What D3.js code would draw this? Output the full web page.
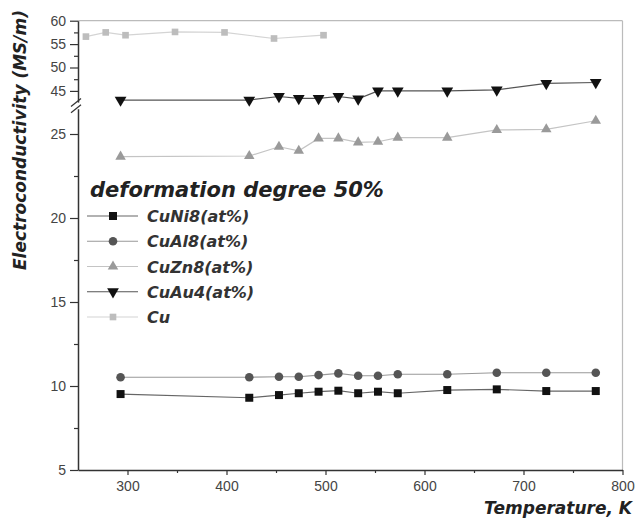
<!DOCTYPE html>
<html><head><meta charset="utf-8">
<script src="https://cdn.jsdelivr.net/npm/d3@7"></script>
<style>
html,body{margin:0;padding:0;background:#fff;}
svg{display:block;}
</style></head>
<body>
<svg id="chart" width="635" height="522"></svg>
<script>
// ---- data ----
const temps = [293, 423, 453, 473, 493, 513, 533, 553, 573, 623, 673, 723, 773];
const cuNi8 = [9.52, 9.30, 9.46, 9.57, 9.66, 9.72, 9.57, 9.66, 9.57, 9.76, 9.80, 9.70, 9.70];
const cuAl8 = [10.52, 10.52, 10.55, 10.55, 10.65, 10.75, 10.61, 10.61, 10.70, 10.70, 10.79, 10.79, 10.79];
const cuZn8 = [23.65, 23.69, 24.24, 24.0, 24.74, 24.74, 24.5, 24.54, 24.78, 24.78, 25.24, 25.28, 25.79];
const cuAu4 = [43.05, 43.05, 43.8, 43.4, 43.4, 43.8, 43.3, 45.0, 45.0, 45.0, 45.2, 46.6, 46.8];
const cuTemps = [258, 278, 298, 348, 398, 448, 498];
const cu = [56.6, 57.5, 56.9, 57.6, 57.5, 56.2, 56.9];

const seriesNames = ["CuNi8(at%)", "CuAl8(at%)", "CuZn8(at%)", "CuAu4(at%)", "Cu"];
const xTickValues = [300, 400, 500, 600, 700, 800];
const xMinorValues = [350, 450, 550, 650, 750];
const yLowTicks = [5, 10, 15, 20, 25];
const yLowMinor = [7.5, 12.5, 17.5, 22.5];
const yHighTicks = [45, 50, 55, 60];
const yHighMinor = [47.5, 52.5, 57.5];

const xTitle = "Temperature, K";
const yTitle = "Electroconductivity (MS/m)";
const legendTitle = "deformation degree 50%";

// ---- scales ----
const svg = d3.select("#chart");
const x = d3.scaleLinear().domain([250, 800]).range([78, 622.5]);
const yLow = d3.scaleLinear().domain([5, 26.5]).range([470, 108.8]);
const yHigh = d3.scaleLinear().domain([42.5, 60]).range([102.6, 20.7]);
const y = v => (v >= 35 ? yHigh(v) : yLow(v));

const boldFont = "'DejaVu Sans', sans-serif";
const tickFont = "'Liberation Sans', Arial, sans-serif";

// frame (top & right, light)
svg.append("line").attr("x1", x(250)).attr("x2", x(800)).attr("y1", yHigh(60)).attr("y2", yHigh(60))
  .attr("stroke", "#bbb").attr("stroke-width", 1.2);
svg.append("line").attr("x1", x(800)).attr("x2", x(800)).attr("y1", yHigh(60)).attr("y2", yLow(5))
  .attr("stroke", "#bbb").attr("stroke-width", 1.2);

// ---- axes ----
function styleAxis(g, fontSize) {
  g.selectAll(".domain").attr("stroke", "#333").attr("stroke-width", 1.5);
  g.selectAll(".tick line").attr("stroke", "#333").attr("stroke-width", 1.2);
  g.selectAll(".tick text").attr("fill", "#444").attr("font-family", tickFont).attr("font-size", fontSize);
}
// bottom
const gx = svg.append("g").attr("transform", `translate(0,${yLow(5)})`)
  .call(d3.axisBottom(x).tickValues(xTickValues).tickSize(5).tickPadding(6).tickSizeOuter(0));
styleAxis(gx, 14);
const gxm = svg.append("g").attr("transform", `translate(0,${yLow(5)})`)
  .call(d3.axisBottom(x).tickValues(xMinorValues).tickSize(3).tickFormat("").tickSizeOuter(0));
gxm.select(".domain").remove();
gxm.selectAll(".tick line").attr("stroke", "#333").attr("stroke-width", 1.2);

// left lower
const gyl = svg.append("g").attr("transform", `translate(${x(250)},0)`)
  .call(d3.axisLeft(yLow).tickValues(yLowTicks).tickSize(8).tickPadding(4).tickSizeOuter(0));
styleAxis(gyl, 14);
const gylm = svg.append("g").attr("transform", `translate(${x(250)},0)`)
  .call(d3.axisLeft(yLow).tickValues(yLowMinor).tickSize(4).tickFormat("").tickSizeOuter(0));
gylm.select(".domain").remove();
gylm.selectAll(".tick line").attr("stroke", "#333").attr("stroke-width", 1.2);
// left upper
const gyh = svg.append("g").attr("transform", `translate(${x(250)},0)`)
  .call(d3.axisLeft(yHigh).tickValues(yHighTicks).tickSize(8).tickPadding(4).tickSizeOuter(0));
styleAxis(gyh, 14);
const gyhm = svg.append("g").attr("transform", `translate(${x(250)},0)`)
  .call(d3.axisLeft(yHigh).tickValues(yHighMinor).tickSize(4).tickFormat("").tickSizeOuter(0));
gyhm.select(".domain").remove();
gyhm.selectAll(".tick line").attr("stroke", "#333").attr("stroke-width", 1.2);

// break marks
const bx = x(250), byTop = yHigh(42.5), byBot = yLow(26.5);
svg.append("rect").attr("x", bx - 2).attr("y", byTop).attr("width", 4).attr("height", byBot - byTop).attr("fill", "#fff");
[byTop, byBot].forEach(yy => {
  svg.append("line").attr("x1", bx - 7).attr("y1", yy + 4).attr("x2", bx + 3).attr("y2", yy - 4)
    .attr("stroke", "#333").attr("stroke-width", 1.3);
});

// ---- series ----
const series = [
  {name: seriesNames[0], xs: temps, ys: cuNi8, shape: d3.symbolSquare, size: 64, fill: "#111", line: "#666"},
  {name: seriesNames[1], xs: temps, ys: cuAl8, shape: d3.symbolCircle, size: 58, fill: "#555", line: "#999"},
  {name: seriesNames[2], xs: temps, ys: cuZn8, shape: d3.symbolTriangle, size: 48, fill: "#9a9a9a", line: "#c4c4c4"},
  {name: seriesNames[3], xs: temps, ys: cuAu4, shape: d3.symbolTriangle, size: 60, fill: "#111", line: "#555", flip: true},
  {name: seriesNames[4], xs: cuTemps, ys: cu, shape: d3.symbolSquare, size: 44, fill: "#bdbdbd", line: "#d4d4d4"}
];

const lineGen = d3.line().x(d => x(d[0])).y(d => y(d[1]));
series.forEach(s => {
  const pts = s.xs.map((t, i) => [t, s.ys[i]]);
  svg.append("path").attr("d", lineGen(pts)).attr("fill", "none")
    .attr("stroke", s.line).attr("stroke-width", 1.2);
  svg.append("g").selectAll("path").data(pts).join("path")
    .attr("d", d3.symbol().type(s.shape).size(s.size))
    .attr("transform", d => `translate(${x(d[0])},${y(d[1])})${s.flip ? " rotate(180)" : ""}`)
    .attr("fill", s.fill);
});

// ---- legend ----
svg.append("text").attr("x", 90).attr("y", 197).text(legendTitle)
  .attr("font-family", boldFont).attr("font-weight", "bold").attr("font-style", "italic")
  .attr("font-size", 21).attr("fill", "#222");
const legendRows = d3.scaleLinear().domain([0, 4]).range([216, 317]);
series.forEach((s, i) => {
  const ly = legendRows(i);
  svg.append("line").attr("x1", 87).attr("x2", 138).attr("y1", ly).attr("y2", ly)
    .attr("stroke", s.line).attr("stroke-width", 1.2);
  svg.append("path").attr("d", d3.symbol().type(s.shape).size(s.size)())
    .attr("transform", `translate(113,${ly})${s.flip ? " rotate(180)" : ""}`).attr("fill", s.fill);
  svg.append("text").attr("x", 147).attr("y", ly + 6).text(s.name)
    .attr("font-family", boldFont).attr("font-weight", "bold").attr("font-style", "italic")
    .attr("font-size", 16).attr("fill", "#333");
});

// ---- axis titles ----
svg.append("text").attr("x", 632).attr("y", 514).attr("text-anchor", "end").text(xTitle)
  .attr("font-family", boldFont).attr("font-weight", "bold").attr("font-style", "italic")
  .attr("font-size", 17).attr("fill", "#222");
svg.append("text").attr("transform", "translate(26,270) rotate(-90)").text(yTitle)
  .attr("font-family", boldFont).attr("font-weight", "bold").attr("font-style", "italic")
  .attr("font-size", 17).attr("fill", "#222");
</script>
</body></html>
